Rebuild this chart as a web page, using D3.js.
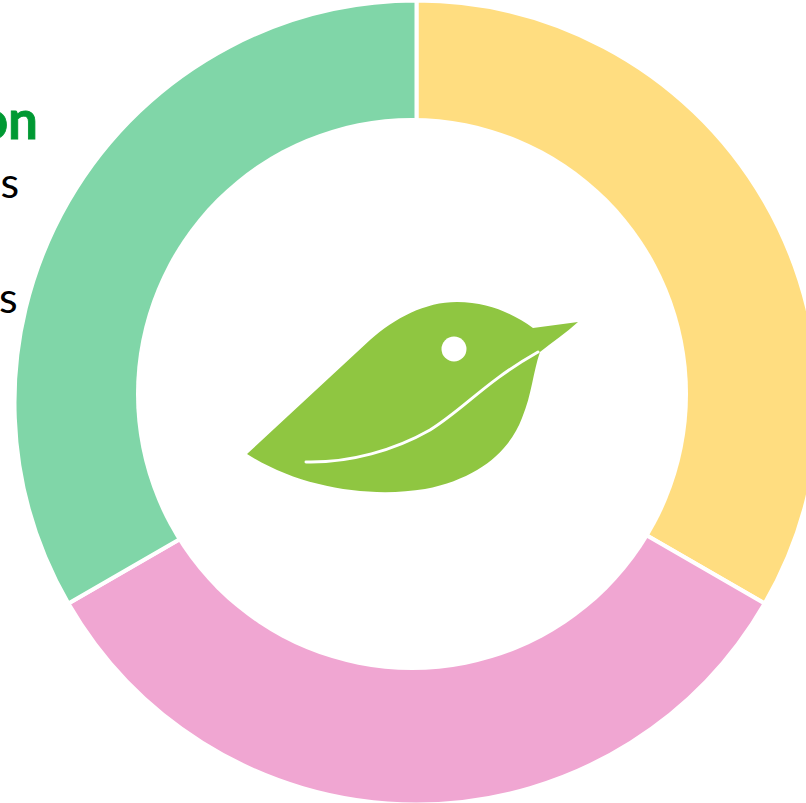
<!DOCTYPE html>
<html>
<head>
<meta charset="utf-8">
<style>
html,body{margin:0;padding:0;background:#fff;overflow:hidden}
svg{display:block}
text{font-family:Lato,"Open Sans",sans-serif}
</style>
<script src="https://cdnjs.cloudflare.com/ajax/libs/d3/7.8.5/d3.min.js"></script>
</head>
<body>
<svg id="chart" width="806" height="803"></svg>
<script>
// Three equal shares around the ring
const segments = ["A", "B", "C"];
const shares = [1, 1, 1];
const ringColors = ["#FFDD80", "#F0A6D2", "#80D6A8"];

// Fragments of the side caption
const captionText = ["on", "s", "s"];

const svg = d3.select("#chart");

// Caption sits behind the ring, running in from the left
const caption = svg.append("g").attr("text-anchor", "end");
caption.append("text").attr("x", 38).attr("y", 138.5)
  .attr("font-size", 53).attr("font-weight", 700).attr("fill", "#009933")
  .attr("stroke", "#009933").attr("stroke-width", 0.8).text(captionText[0]);
caption.append("text").attr("x", 19).attr("y", 198)
  .attr("font-size", 43).attr("fill", "#000").text(captionText[1]);
caption.append("text").attr("x", 17.5).attr("y", 313)
  .attr("font-size", 43).attr("fill", "#000").text(captionText[2]);

// Ring wedges
const pie = d3.pie().sort(null)(shares);
const arc = d3.arc().innerRadius(0).outerRadius(402);
svg.append("g").attr("transform", "translate(416.5,402.5)")
  .selectAll("path").data(pie).join("path")
  .attr("d", arc)
  .attr("fill", (d, i) => ringColors[i])
  .attr("stroke", "#fff").attr("stroke-width", 4)
  .append("title").text((d, i) => segments[i]);

// Hollow centre, set slightly up and to the left of the wedges' origin
svg.append("circle").attr("cx", 412).attr("cy", 394).attr("r", 276).attr("fill", "#fff");

// Bird-shaped leaf emblem
const emblem = svg.append("g");
emblem.append("path")
  .attr("d", "M247,454 L370,340 C395,318 425,302 457,302 C490,302 515,315 533,328 L578,322 C566,333 552,342 540,352 C533,372 532,394 522,418 C510,450 480,478 425,489 C370,498 300,488 247,454 Z")
  .attr("fill", "#8FC641");
emblem.append("path")
  .attr("d", "M306,462 C350,463 395,450 430,430 C465,408 485,382 538,352")
  .attr("fill", "none").attr("stroke", "#fff").attr("stroke-width", 3).attr("stroke-linecap", "round");
emblem.append("circle").attr("cx", 454).attr("cy", 349).attr("r", 12.5).attr("fill", "#fff");
</script>
</body>
</html>
